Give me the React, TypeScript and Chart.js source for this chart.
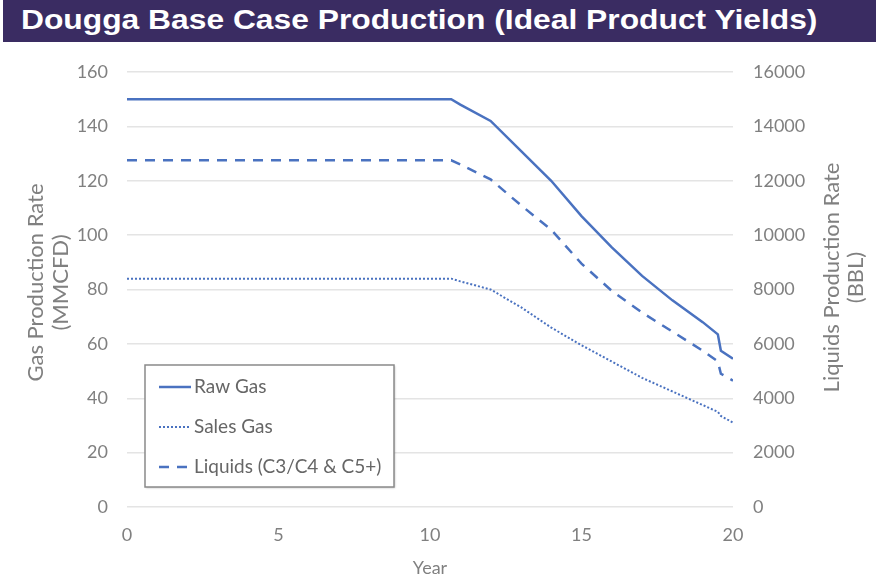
import { useEffect, useRef } from 'react';
import { Chart, registerables } from 'chart.js';

Chart.register(...registerables);

const TITLE = 'Dougga Base Case Production (Ideal Product Yields)';
const years = [0, 1, 2, 3, 4, 5, 6, 7, 8, 9, 10, 10.7, 11, 12, 13, 14, 15, 16, 17, 18, 19, 19.5, 19.6, 20];
const rawGas = [150, 150, 150, 150, 150, 150, 150, 150, 150, 150, 150, 150, 148, 142, 131, 120, 107, 95.5, 85, 76, 68, 63.5, 57.5, 54.5];
const salesGas = [84, 84, 84, 84, 84, 84, 84, 84, 84, 84, 84, 84, 83, 80, 73.5, 66, 59.5, 53.5, 47.5, 42.5, 37.5, 35, 33.5, 31];
const liquids = [12750, 12750, 12750, 12750, 12750, 12750, 12750, 12750, 12750, 12750, 12750, 12750, 12600, 12050, 11100, 10200, 8950, 7950, 7150, 6450, 5750, 5350, 4900, 4650];
const seriesNames = ['Raw Gas', 'Sales Gas', 'Liquids (C3/C4 & C5+)'];
const leftTitle = ['Gas Production Rate', '(MMCFD)'];
const rightTitle = ['Liquids Production Rate', '(BBL)'];
const xTitle = 'Year';
const xRange = [0, 20, 5];
const leftRange = [0, 160, 20];
const rightRange = [0, 16000, 2000];

const LINE = '#4a72c0';
const TICK = '#808080';
const FONT = 'Lato';

const overlay = {
  id: 'overlay',
  afterDatasetsDraw(chart: any) {
    const ctx = chart.ctx as CanvasRenderingContext2D;
    const a = chart.chartArea;
    ctx.save();
    // legend box
    const bx = a.left + 18;
    const by = a.top + 293;
    const bw = 249;
    const bh = 122;
    ctx.shadowColor = 'rgba(0,0,0,0.25)';
    ctx.shadowBlur = 2;
    ctx.shadowOffsetX = 1;
    ctx.shadowOffsetY = 1;
    ctx.fillStyle = '#ffffff';
    ctx.fillRect(bx, by, bw, bh);
    ctx.shadowColor = 'transparent';
    ctx.strokeStyle = '#8a8a8a';
    ctx.lineWidth = 1.5;
    ctx.strokeRect(bx, by, bw, bh);
    ctx.font = `19px ${FONT}`;
    ctx.textAlign = 'left';
    ctx.textBaseline = 'middle';
    chart.data.datasets.forEach((ds: any, i: number) => {
      const y = by + 22 + i * 40;
      ctx.beginPath();
      ctx.strokeStyle = ds.borderColor;
      ctx.lineWidth = ds.borderWidth;
      ctx.setLineDash(ds.borderDash || []);
      ctx.moveTo(bx + 14, y);
      ctx.lineTo(bx + 46, y);
      ctx.stroke();
      ctx.setLineDash([]);
      ctx.fillStyle = '#666666';
      ctx.fillText(ds.label, bx + 49, y);
    });
    // axis titles
    ctx.fillStyle = TICK;
    ctx.font = `22px ${FONT}`;
    ctx.textAlign = 'center';
    ctx.textBaseline = 'middle';
    const drawV = (lines: string[], xs: number[], cy: number) => {
      lines.forEach((t, i) => {
        ctx.save();
        ctx.translate(xs[i], cy);
        ctx.rotate(-Math.PI / 2);
        ctx.fillText(t, 0, 0);
        ctx.restore();
      });
    };
    const mid = (a.top + a.bottom) / 2;
    drawV(leftTitle, [a.left - 91, a.left - 66], mid - 7);
    drawV(rightTitle, [a.right + 99, a.right + 123], mid - 12);
    ctx.restore();
  },
};

export default function App() {
  const ref = useRef<HTMLCanvasElement | null>(null);
  useEffect(() => {
    if (!ref.current) return;
    const pts = (ys: number[]) => years.map((x, i) => ({ x, y: ys[i] }));
    const chart = new Chart(ref.current, {
      type: 'line',
      data: {
        datasets: [
          { label: seriesNames[0], data: pts(rawGas), yAxisID: 'y', borderColor: LINE, borderWidth: 2.5, pointRadius: 0, tension: 0 },
          { label: seriesNames[1], data: pts(salesGas), yAxisID: 'y', borderColor: LINE, borderWidth: 2, borderDash: [2, 2], pointRadius: 0, tension: 0 },
          { label: seriesNames[2], data: pts(liquids), yAxisID: 'y1', borderColor: LINE, borderWidth: 2.5, borderDash: [10, 8], pointRadius: 0, tension: 0 },
        ],
      },
      options: {
        responsive: false,
        animation: false,
        layout: { padding: { top: 72, left: 0, right: 0, bottom: 0 } },
        plugins: { legend: { display: false }, tooltip: { enabled: false } },
        scales: {
          x: {
            type: 'linear',
            min: xRange[0],
            max: xRange[1],
            ticks: { stepSize: xRange[2], color: TICK, font: { family: FONT, size: 18 }, padding: 17 },
            grid: { display: false, drawTicks: false },
            border: { display: false },
            title: { display: true, text: xTitle, color: TICK, font: { family: FONT, size: 18 }, padding: { top: 0, bottom: 2 } },
            afterFit: (s: any) => { s.height = 74; },
          },
          y: {
            position: 'left',
            min: leftRange[0],
            max: leftRange[1],
            ticks: { stepSize: leftRange[2], color: TICK, font: { family: FONT, size: 18 }, padding: 19 },
            grid: { color: '#e4e4e4', lineWidth: 1.5, drawTicks: false },
            border: { display: false },
            afterFit: (s: any) => { s.width = 127; },
          },
          y1: {
            position: 'right',
            min: rightRange[0],
            max: rightRange[1],
            ticks: { stepSize: rightRange[2], color: TICK, font: { family: FONT, size: 18 }, padding: 20, callback: (v: any) => String(v) },
            grid: { display: false, drawTicks: false },
            border: { display: false },
            afterFit: (s: any) => { s.width = 143; },
          },
        },
      },
      plugins: [overlay],
    });
    return () => chart.destroy();
  }, []);

  return (
    <div style={{ position: 'absolute', left: 0, top: 0, width: 876, height: 581, background: '#fff', overflow: 'hidden' }}>
      <canvas ref={ref} width={876} height={581} style={{ position: 'absolute', left: 0, top: 0, width: 876, height: 581 }} />
      <div
        style={{
          position: 'absolute',
          left: 3,
          top: 0,
          width: 873,
          height: 42,
          background: '#3a2c62',
          color: '#ffffff',
          fontFamily: '"Liberation Sans", Arial, sans-serif',
          fontWeight: 'bold',
          fontSize: 28,
          lineHeight: '40px',
          paddingLeft: 18,
          boxSizing: 'border-box',
          whiteSpace: 'nowrap',
        }}
      >
        <span style={{ display: 'inline-block', transform: 'scaleX(1.135)', transformOrigin: 'left center' }}>{TITLE}</span>
      </div>
    </div>
  );
}
